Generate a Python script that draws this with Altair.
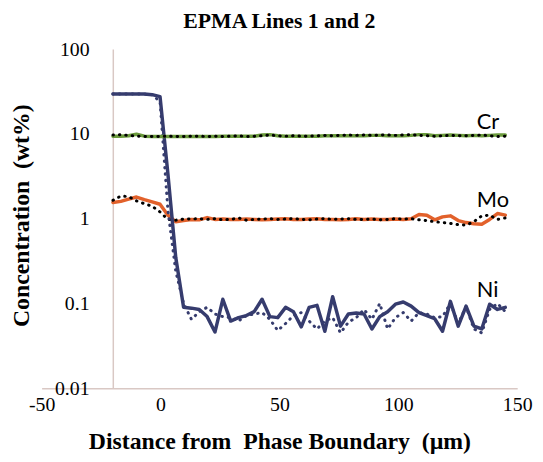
import altair as alt
import pandas as pd

# Distance from phase boundary (µm)
x_um = [-20, -16.7, -13.4, -10.1, -6.8, -3.5, -0.2, 3.1, 6.4, 9.7,
        13.0, 16.3, 19.6, 22.9, 26.2, 29.5, 32.8, 36.1, 39.4, 42.7,
        46.0, 49.3, 52.6, 55.9, 59.2, 62.5, 65.8, 69.1, 72.4, 75.7,
        79.0, 82.3, 85.6, 88.9, 92.2, 95.5, 98.8, 102.1, 105.4, 108.7,
        112.0, 115.3, 118.6, 121.9, 125.2, 128.5, 131.8, 135.1, 138.4, 141.7,
        145.0]

# Line 1 (solid) and Line 2 (dotted), wt%
ni_line1 = [29.5, 29.5, 29.5, 29.5, 29.5, 29.0, 27.5, 3.4, 0.35, 0.09,
            0.088, 0.085, 0.07, 0.046, 0.112, 0.062, 0.068, 0.072, 0.08, 0.112,
            0.07, 0.068, 0.09, 0.08, 0.053, 0.09, 0.095, 0.047, 0.12, 0.054,
            0.075, 0.077, 0.075, 0.05, 0.07, 0.08, 0.098, 0.104, 0.093, 0.078,
            0.072, 0.066, 0.047, 0.106, 0.054, 0.093, 0.054, 0.05, 0.098, 0.085,
            0.09]
ni_line2 = [29.5, 29.5, 29.5, 29.5, 29.5, 29.0, 24.0, 1.26, 0.24, 0.1,
            0.065, 0.08, 0.09, 0.075, 0.07, 0.068, 0.062, 0.072, 0.075, 0.078,
            0.065, 0.048, 0.058, 0.072, 0.078, 0.062, 0.05, 0.062, 0.068, 0.045,
            0.06, 0.068, 0.085, 0.065, 0.1, 0.05, 0.068, 0.078, 0.062, 0.078,
            0.075, 0.068, 0.07, 0.1, 0.058, 0.092, 0.05, 0.045, 0.085, 0.1,
            0.08]
mo_line1 = [1.55, 1.6, 1.7, 1.8, 1.68, 1.58, 1.48, 1.1, 0.92, 0.95,
            0.98, 0.97, 1.03, 0.98, 0.99, 0.98, 0.98, 0.99, 0.98, 0.97,
            0.98, 0.99, 1.0, 0.98, 0.98, 0.99, 1.0, 0.98, 0.98, 0.97,
            0.98, 1.0, 0.98, 0.99, 0.98, 0.98, 0.99, 0.98, 1.0, 1.12,
            1.1, 0.97, 1.05, 1.08, 0.95, 0.9, 0.87, 0.86, 0.98, 1.15,
            1.1]
mo_line2 = [1.65, 1.85, 1.82, 1.62, 1.5, 1.4, 1.2, 0.98, 0.96, 0.99,
            0.99, 1.0, 0.98, 1.0, 0.97, 0.98, 1.02, 0.96, 0.98, 0.99,
            1.0, 0.98, 0.99, 1.0, 0.98, 0.97, 0.99, 1.0, 0.98, 0.99,
            1.0, 0.98, 0.98, 0.99, 0.97, 0.98, 1.0, 0.99, 1.0, 0.97,
            0.95, 0.92, 0.9, 0.88, 0.85, 0.84, 0.92, 1.08, 1.1, 0.98,
            1.02]
cr_line1 = [9.4, 9.4, 9.5, 9.9, 9.4, 9.3, 9.3, 9.3, 9.3, 9.3,
            9.3, 9.3, 9.3, 9.3, 9.4, 9.4, 9.4, 9.4, 9.4, 9.7,
            9.8, 9.5, 9.4, 9.4, 9.4, 9.4, 9.4, 9.5, 9.5, 9.5,
            9.5, 9.5, 9.5, 9.6, 9.6, 9.5, 9.5, 9.5, 9.6, 9.8,
            9.8, 9.5, 9.6, 9.7, 9.6, 9.5, 9.6, 9.5, 9.6, 9.7,
            9.7]
cr_line2 = [9.7, 9.8, 9.6, 9.4, 9.3, 9.3, 9.3, 9.4, 9.3, 9.3,
            9.4, 9.4, 9.3, 9.4, 9.3, 9.4, 9.5, 9.3, 9.4, 9.5,
            9.7, 9.5, 9.4, 9.5, 9.4, 9.4, 9.5, 9.6, 9.5, 9.6,
            9.7, 9.6, 9.7, 9.6, 9.7, 9.7, 9.6, 9.7, 9.8, 9.6,
            9.5, 9.4, 9.5, 9.6, 9.5, 9.5, 9.6, 9.7, 9.5, 9.3,
            9.4]

label_names = ["Cr", "Mo", "Ni"]
label_x = [133, 133, 133]
label_y = [11.4, 1.36, 0.118]

series = [
    ("Mo-1", mo_line1), ("Mo-2", mo_line2),
    ("Ni-1", ni_line1), ("Ni-2", ni_line2),
    ("Cr-1", cr_line1), ("Cr-2", cr_line2),
]
styles = {
    "Mo-1": ("#e2612b", False, 3.5),
    "Mo-2": ("#000000", True, 3),
    "Ni-1": ("#363c6e", False, 3.5),
    "Ni-2": ("#363c6e", True, 3),
    "Cr-1": ("#6b9a3d", False, 3.5),
    "Cr-2": ("#000000", True, 3),
}

rows = []
for key, vals in series:
    for xv, v in zip(x_um, vals):
        rows.append({"key": key, "x": xv, "v": v})
df = pd.DataFrame(rows)

serif = "Liberation Serif"
axis_col = "#d9c8c4"

x_enc = alt.X("x:Q", scale=alt.Scale(domain=[-50, 150], nice=False, zero=False),
              axis=alt.Axis(values=[-50, 0, 50, 100, 150], labelExpr="'' + datum.value",
                            title="Distance from\u00a0 Phase Boundary\u00a0 (µm)",
                            titleFont=serif, titleFontSize=24, titleFontWeight="bold",
                            titleColor="#000", titlePadding=15,
                            labelFont=serif, labelFontSize=20, labelColor="#000",
                            labelPadding=7, labelFlush=False, labelOverlap=False,
                            ticks=False, grid=False, domainColor=axis_col, domainWidth=1.5))
y_enc = alt.Y("v:Q", scale=alt.Scale(type="log", domain=[0.01, 100], nice=False),
              axis=alt.Axis(values=[0.01, 0.1, 1, 10, 100], labelExpr="'' + datum.value",
                            offset=-72, labelPadding=24,
                            title="Concentration\u00a0 (wt%)",
                            titleFont=serif, titleFontSize=24, titleFontWeight="bold",
                            titleColor="#000", titleX=-92, titleY=168, titleBaseline="middle",
                            titleAngle=270,
                            labelFont=serif, labelFontSize=20, labelColor="#000",
                            labelFlush=False, labelOverlap=False,
                            ticks=False, grid=False, domainColor=axis_col, domainWidth=1.5))

layers = []
for key, _ in series:
    color, dotted, width = styles[key]
    kw = dict(color=color, strokeWidth=width, strokeCap="round", strokeJoin="round")
    if dotted:
        kw["strokeDash"] = [0.5, 6]
    layers.append(
        alt.Chart(df).transform_filter(alt.datum.key == key)
        .mark_line(**kw).encode(x=x_enc, y=y_enc)
    )

lab_df = pd.DataFrame({"name": label_names, "x": label_x, "v": label_y})
labels = alt.Chart(lab_df).mark_text(font="Lato", fontSize=22, align="left",
                                     baseline="alphabetic", color="#000").encode(
    x=x_enc, y=y_enc, text="name:N")

chart = alt.layer(*layers, labels).properties(
    width=481, height=343,
    title=alt.TitleParams("EPMA Lines 1 and 2", font=serif, fontSize=22,
                          fontWeight="bold", color="#000", anchor="middle", offset=6),
    autosize=alt.AutoSizeParams(type="none"),
    padding={"left": 34, "top": 39, "right": 18, "bottom": 70},
    background="white",
).configure_view(stroke=None)

chart.save("out.html", embed_options={"renderer": "svg", "actions": False})
